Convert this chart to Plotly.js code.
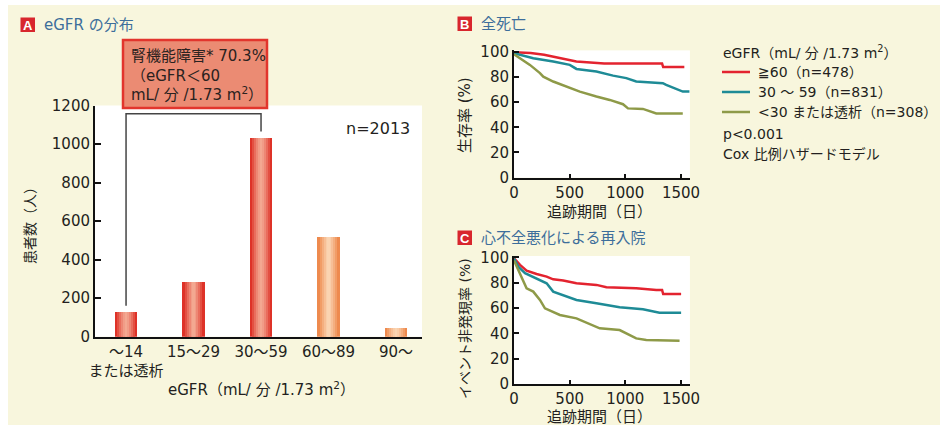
<!DOCTYPE html>
<html><head><meta charset="utf-8">
<script src="https://cdn.plot.ly/plotly-3.0.1.min.js"></script>
<style>html,body{margin:0;padding:0;background:#fff}#chart{width:940px;height:428px}</style>
</head><body><div id="chart"></div>
<script>
// ---- Data ----
const tickLabels = ['～14<br>または透析', '15～29', '30～59', '60～89', '90～'];
const counts = [130, 285, 1033, 520, 45];
const barKinds = ['red', 'red', 'red', 'orange', 'orange'];

const seriesNames = ['≧60（n=478）', '30 ～ 59（n=831）', '<30 または透析（n=308）'];

const bRedX = [0, 150, 270, 355, 415, 490, 560, 810, 1330, 1340, 1530];
const bRedY = [99.6, 99, 97.5, 96, 95, 93.7, 92.2, 90.6, 90.6, 87.8, 87.8];
const bTealX = [0, 84, 173, 352, 501, 561, 740, 890, 1009, 1098, 1337, 1367, 1442, 1516, 1576];
const bTealY = [98.8, 97, 94.8, 92.2, 89.5, 86.3, 84.2, 81, 79, 76.3, 75, 73.6, 71, 68.3, 68.3];
const bOliveX = [0, 54, 143, 233, 263, 352, 472, 591, 740, 860, 979, 1024, 1158, 1278, 1516];
const bOliveY = [98, 94.8, 89.5, 83, 80.2, 76.3, 72.3, 68.3, 64.4, 61.7, 58.3, 55, 54.6, 51, 51];

const cRedX = [0, 9, 54, 113, 203, 293, 352, 442, 561, 740, 830, 1098, 1278, 1330, 1340, 1501];
const cRedY = [99.5, 98.4, 94, 89.5, 86.8, 84.7, 82.6, 81.6, 79.5, 78.2, 76.3, 75.5, 74.2, 74.2, 71, 71];
const cTealX = [0, 39, 99, 203, 293, 352, 442, 561, 740, 949, 1158, 1248, 1307, 1501];
const cTealY = [99, 92.6, 87.4, 83.4, 79.5, 72.9, 70.3, 66.3, 63.7, 60.5, 58.9, 57.1, 56.3, 56.3];
const cOliveX = [0, 39, 84, 113, 173, 233, 278, 412, 561, 710, 770, 949, 1009, 1098, 1188, 1487];
const cOliveY = [97.4, 90, 82, 75.5, 72.9, 66.3, 59.7, 54.5, 51.8, 46.6, 43.9, 42.6, 40, 36, 34.7, 34.2];

// ---- Styles ----
const W = 940, H = 428;
const FONT = 'DejaVu Sans, "Noto Sans CJK JP", sans-serif';
const TXT = '#231f20';
const lineColors = ['#e3232f', '#1e8b96', '#8e9a48'];
const px = (x) => x / W;
const py = (y) => 1 - y / H;

const gradEdge = {red: [222, 50, 40], orange: [238, 138, 78]};
const gradCenter = {red: [243, 168, 145], orange: [250, 212, 178]};
function mix(a, b, t) { return 'rgb(' + a.map((v, i) => Math.round(v + (b[i] - v) * t)).join(',') + ')'; }

const traces = [];
const catIdx = counts.map((_, i) => i);
const layers = [[1, 0], [0.8, 0.25], [0.6, 0.5], [0.42, 0.72], [0.25, 0.9], [0.1, 1]];
layers.forEach(([wf, t]) => {
  traces.push({
    type: 'bar', x: catIdx, y: counts, width: 0.33 * wf,
    marker: {color: barKinds.map(k => mix(gradEdge[k], gradCenter[k], t)), line: {width: 0}},
    xaxis: 'x', yaxis: 'y', showlegend: false, hoverinfo: 'skip'
  });
});

const bSeries = [[bRedX, bRedY], [bTealX, bTealY], [bOliveX, bOliveY]];
const cSeries = [[cRedX, cRedY], [cTealX, cTealY], [cOliveX, cOliveY]];
bSeries.forEach(([x, y], i) => traces.push({type: 'scatter', mode: 'lines', x, y, name: seriesNames[i], xaxis: 'x2', yaxis: 'y2', line: {color: lineColors[i], width: 2.5}, showlegend: false}));
cSeries.forEach(([x, y], i) => traces.push({type: 'scatter', mode: 'lines', x, y, name: seriesNames[i], xaxis: 'x3', yaxis: 'y3', line: {color: lineColors[i], width: 2.5}, showlegend: false}));

const axBase = {showline: true, linecolor: '#111', linewidth: 2, showgrid: false, zeroline: false,
  tickfont: {family: FONT, size: 15, color: TXT}, ticks: 'inside', ticklen: 5, tickwidth: 2, tickcolor: '#111', fixedrange: true};

const kmX = (anchor) => Object.assign({}, axBase, {anchor, domain: [px(514), px(514 + 1580 * 0.11133)], range: [0, 1580], tickvals: [0, 500, 1000, 1500], ticklen: 4});
const kmY = (anchor, top, bottom) => Object.assign({}, axBase, {anchor, domain: [py(bottom), py(top)], range: [0, 101], dtick: 20, ticklen: 5});

const ann = [];
function T(text, x, y, opt) {
  ann.push(Object.assign({text, x: px(x), y: py(y), xref: 'paper', yref: 'paper', showarrow: false,
    xanchor: 'left', yanchor: 'middle', font: {family: FONT, size: 15, color: TXT}}, opt || {}));
}
const shapes = [];
function R(x0, y0, x1, y1, fill, line, lw) {
  shapes.push({type: 'rect', xref: 'paper', yref: 'paper', x0: px(x0), x1: px(x1), y0: py(y1), y1: py(y0),
    fillcolor: fill, line: {color: line || fill, width: lw || 0}});
}

// outer white frame
R(0, 0, 940, 5, '#ffffff'); R(0, 0, 8, 428, '#ffffff'); R(0, 425, 940, 428, '#ffffff');

// panel titles
const TITLE_BLUE = '#3d6e9b';
[['A', 20.5, 17.5, 'eGFR の分布'], ['B', 457.5, 16.5, '全死亡'], ['C', 457.5, 230.5, '心不全悪化による再入院']].forEach(([L, x, y, t]) => {
  R(x, y, x + 14.5, y + 14.5, '#d8262d');
  T('<b>' + L + '</b>', x + 7.25, y + 7.8, {xanchor: 'center', font: {family: 'Liberation Sans, Arial, sans-serif', size: 13, color: '#fff'}});
  T(t, x + 21, y + 7.5, {font: {family: FONT, size: 15, color: TITLE_BLUE}});
});

// annotation box in A
R(123, 40, 267, 108, '#eb8b73', '#e2352d', 2.5);
T('腎機能障害* 70.3%<br>（eGFR＜60<br>mL/ 分 /1.73 m<sup>2</sup>）', 129, 75, {align: 'left', font: {family: FONT, size: 15, color: '#2a2220'}});

// bracket
const brTop = Math.max(...counts) * 1.12;
shapes.push({type: 'path', xref: 'x', yref: 'y', line: {color: '#444', width: 1.5},
  path: `M 0,${counts[0] + 30} L 0,${brTop} L 2,${brTop} L 2,${counts[2] + 32}`});

T('n=2013', 378, 128, {xanchor: 'center', font: {family: FONT, size: 16, color: TXT}});
T('患者数（人）', 30, 222, {xanchor: 'center', textangle: -90, font: {family: FONT, size: 14, color: TXT}});
T('eGFR（mL/ 分 /1.73 m<sup>2</sup>）', 261, 389, {xanchor: 'center'});

T('生存率 (%)', 465, 115, {xanchor: 'center', textangle: -90});
T('追跡期間（日）', 599, 212, {xanchor: 'center'});
T('イベント非発現率 (%)', 465, 329, {xanchor: 'center', textangle: -90, font: {family: FONT, size: 14, color: TXT}});
T('追跡期間（日）', 599, 417, {xanchor: 'center'});

// legend
const LF = {family: FONT, size: 14, color: TXT};
T('eGFR（mL/ 分 /1.73 m<sup>2</sup>）', 721, 52, {font: LF});
seriesNames.forEach((n, i) => {
  const y = 72 + 20 * i;
  shapes.push({type: 'line', xref: 'paper', yref: 'paper', x0: px(722), x1: px(750), y0: py(y), y1: py(y), line: {color: lineColors[i], width: 2.5}});
  T(n, 756, y, {font: LF});
});
T('p<0.001', 721, 134, {font: LF});
T('Cox 比例ハザードモデル', 721, 154, {font: LF});

const layout = {
  width: W, height: H, margin: {l: 0, r: 0, t: 0, b: 0},
  paper_bgcolor: '#f8f6dd', plot_bgcolor: '#ffffff', barmode: 'overlay', bargap: 0,
  font: {family: FONT, color: TXT},
  xaxis: Object.assign({}, axBase, {anchor: 'y', domain: [px(95), px(422)], range: [-0.46, 4.385],
    tickvals: catIdx, ticktext: tickLabels, ticks: ''}),
  yaxis: Object.assign({}, axBase, {anchor: 'x', domain: [py(336.7), py(105.5)], range: [0, 1200], dtick: 200, ticklen: 6}),
  xaxis2: kmX('y2'), yaxis2: kmY('x2', 50.4, 177.7),
  xaxis3: kmX('y3'), yaxis3: kmY('x3', 256, 384),
  annotations: ann, shapes: shapes, showlegend: false
};

Plotly.newPlot('chart', traces, layout, {displayModeBar: false, staticPlot: true});
</script></body></html>
